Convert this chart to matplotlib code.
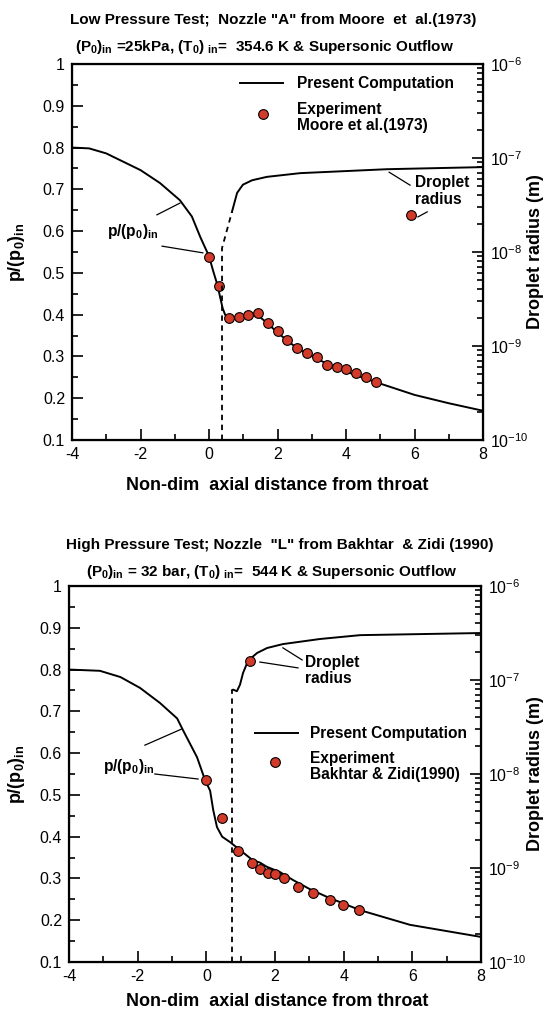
import matplotlib
matplotlib.use("Agg")
import matplotlib.pyplot as plt
from matplotlib.ticker import MultipleLocator, LogLocator, NullFormatter

plt.rcParams['font.family'] = ['Liberation Sans', 'DejaVu Sans']
plt.rcParams['mathtext.fontset'] = 'custom'
plt.rcParams['mathtext.rm'] = 'Liberation Sans'
plt.rcParams['mathtext.it'] = 'Liberation Sans:italic'
plt.rcParams['mathtext.bf'] = 'Liberation Sans:bold'
plt.rcParams['axes.unicode_minus'] = False

# ---------------- Data: low pressure test (Moore et al. 1973) ----------------
lp_calc_x = [-4.0, -3.5, -3.0, -2.6, -2.0, -1.43, -0.85, -0.5, -0.25, 0.0, 0.12, 0.25,
             0.33, 0.40, 0.47, 0.55, 0.8, 1.1, 1.4, 1.7, 2.0, 2.3, 2.6, 3.0, 3.5,
             4.0, 4.5, 5.0, 6.0, 7.0, 8.0]
lp_calc_p = [0.800, 0.798, 0.786, 0.770, 0.746, 0.715, 0.674, 0.635, 0.585, 0.540, 0.505,
             0.470, 0.440, 0.415, 0.400, 0.393, 0.394, 0.398, 0.400, 0.380, 0.357, 0.337,
             0.318, 0.301, 0.280, 0.264, 0.249, 0.235, 0.208, 0.188, 0.170]
lp_exp_x = [0.0, 0.29, 0.58, 0.87, 1.15, 1.43, 1.72, 2.0, 2.29, 2.58, 2.87, 3.15,
            3.44, 3.73, 4.01, 4.30, 4.58, 4.87]
lp_exp_p = [0.538, 0.469, 0.393, 0.395, 0.400, 0.403, 0.380, 0.360, 0.340, 0.320,
            0.308, 0.299, 0.280, 0.275, 0.270, 0.260, 0.250, 0.240]
lp_rad_dash_x = [0.38, 0.38, 0.67]
lp_rad_dash_r = [1e-10, 1.1e-8, 2.67e-8]
lp_rad_x = [0.67, 0.82, 0.99, 1.26, 1.69, 2.66, 5.2, 8.0]
lp_rad_r = [2.67e-8, 4.25e-8, 5.2e-8, 5.8e-8, 6.3e-8, 6.9e-8, 7.6e-8, 8.0e-8]
lp_rad_exp_x = [5.9]
lp_rad_exp_r = [2.5e-8]

# ---------------- Data: high pressure test (Bakhtar & Zidi 1990) ----------------
hp_calc_x = [-4.0, -3.1, -2.5, -1.93, -1.35, -0.85, -0.68, -0.27, -0.04, 0.11, 0.2,
             0.31, 0.46, 0.69, 0.98, 1.36, 1.56, 1.76, 2.15, 2.53, 3.0, 3.51, 4.48,
             5.93, 8.0]
hp_calc_p = [0.800, 0.797, 0.782, 0.756, 0.720, 0.683, 0.655, 0.590, 0.536, 0.510, 0.464,
             0.423, 0.400, 0.387, 0.368, 0.343, 0.338, 0.328, 0.315, 0.296, 0.275,
             0.256, 0.224, 0.189, 0.160]
hp_exp_x = [0.0, 0.46, 0.92, 1.33, 1.57, 1.80, 2.0, 2.26, 2.66, 3.10, 3.60, 3.98, 4.45]
hp_exp_p = [0.536, 0.444, 0.366, 0.337, 0.323, 0.313, 0.310, 0.300, 0.280, 0.265,
            0.248, 0.236, 0.224]
hp_rad_dash_x = [0.75, 0.75]
hp_rad_dash_r = [1e-10, 7.8e-8]
hp_rad_x = [0.75, 0.78, 0.89, 0.98, 1.07, 1.19, 1.27, 1.48, 1.77, 2.23, 3.31, 4.48, 8.0]
hp_rad_r = [7.8e-8, 7.9e-8, 7.6e-8, 8.9e-8, 1.19e-7, 1.52e-7, 1.67e-7, 1.94e-7,
            2.19e-7, 2.41e-7, 2.73e-7, 3.0e-7, 3.16e-7]
hp_rad_exp_x = [1.27]
hp_rad_exp_r = [1.6e-7]

RED = '#d23b2a'
W = 545.0
H = 1014.0
LEG_FS = 11.2

fig = plt.figure(figsize=(5.45, 10.14), dpi=100)


def setup(rect, xlab_top_px):
    ax = fig.add_axes(rect)
    ax.set_xlim(-4, 8)
    ax.set_ylim(0.1, 1.0)
    ax.xaxis.set_major_locator(MultipleLocator(2))
    ax.xaxis.set_minor_locator(MultipleLocator(1))
    ax.yaxis.set_minor_locator(MultipleLocator(0.05))
    ax.set_yticks([0.1, 0.2, 0.3, 0.4, 0.5, 0.6, 0.7, 0.8, 0.9, 1.0])
    ax.set_yticklabels(['0.1', '0.2', '0.3', '0.4', '0.5', '0.6', '0.7', '0.8', '0.9', '1'])
    ax.tick_params(which='both', direction='in', top=False, right=False, labelsize=11.5,
                   width=1.2)
    ax.tick_params(axis='x', pad=5)
    ax.tick_params(axis='y', pad=5)
    ax.tick_params(which='major', length=8)
    ax.tick_params(which='minor', length=4.5)
    ax.xaxis.offsetText.set_visible(False)
    ax.yaxis.offsetText.set_visible(False)
    for s in ax.spines.values():
        s.set_linewidth(1.6)
    ax2 = ax.twinx()
    ax2.xaxis.set_visible(False)
    ax2.yaxis.offsetText.set_visible(False)
    ax2.set_yscale('log')
    ax2.set_ylim(1e-10, 1e-6)
    ax2.yaxis.set_major_locator(LogLocator(base=10, numticks=10))
    ax2.yaxis.set_minor_locator(LogLocator(base=10, subs=range(2, 10), numticks=20))
    ax2.yaxis.set_minor_formatter(NullFormatter())
    ax2.tick_params(which='both', direction='in', labelsize=11.5, width=1.2, pad=5)
    ax2.tick_params(which='major', length=8)
    ax2.tick_params(which='minor', length=4.5)
    x0 = rect[0] * W
    w = rect[2] * W
    y_top = (1 - rect[1] - rect[3]) * H
    h = rect[3] * H
    ax.set_xlabel('Non-dim  axial distance from throat', fontsize=13, fontweight='bold')
    ax.xaxis.set_label_coords((277 - x0) / w, -(xlab_top_px - (y_top + h)) / h)
    ax.set_ylabel(r'$\mathbf{p/(p_0)_{in}}$', fontsize=13)
    ax.yaxis.set_label_coords((27 - x0) / w, 0.5)
    ax2.set_ylabel('Droplet radius (m)', fontsize=13, fontweight='bold')
    ax2.yaxis.set_label_coords((527 - x0) / w, 0.5)
    return ax, ax2


# ---------------- Top panel ----------------
ax, ax2 = setup([72 / W, 1 - 440 / H, 411 / W, 376 / H], 477)
ax.plot(lp_calc_x, lp_calc_p, color='black', lw=1.4, zorder=3)
ax.plot(lp_exp_x, lp_exp_p, 'o', ms=7, mfc=RED, mec='black', mew=0.8, zorder=4)
ax2.plot(lp_rad_dash_x, lp_rad_dash_r, color='black', lw=1.3, ls=(0, (3, 2.5)))
ax2.plot(lp_rad_x, lp_rad_r, color='black', lw=1.4)
ax2.plot(lp_rad_exp_x, lp_rad_exp_r, 'o', ms=7, mfc=RED, mec='black', mew=0.8)

ax.plot([0.9, 2.16], [0.954, 0.954], color='black', lw=1.4)
ax.text(2.57, 0.954, 'Present Computation', fontsize=LEG_FS, fontweight='bold', va='center')
ax.plot([1.58], [0.88], 'o', ms=7, mfc=RED, mec='black', mew=0.8)
ax.text(2.57, 0.871, 'Experiment\nMoore et al.(1973)', fontsize=LEG_FS, fontweight='bold',
        va='center', linespacing=1.1)
ax.text(6.01, 0.696, 'Droplet\nradius', fontsize=LEG_FS, fontweight='bold', va='center',
        linespacing=1.1)
ax.plot([5.26, 5.87], [0.741, 0.71], color='black', lw=0.9)
ax.plot([6.1, 6.37], [0.634, 0.646], color='black', lw=0.9)
ax.text(-2.98, 0.598, r'$\mathbf{p/(p_0)_{in}}$', fontsize=LEG_FS, va='center')
ax.plot([-1.52, -0.85], [0.639, 0.667], color='black', lw=0.9)
ax.plot([-1.37, -0.18], [0.564, 0.548], color='black', lw=0.9)

fig.text(273 / W, 1 - 20 / H, 'Low Pressure Test;  Nozzle "A" from Moore  et  al.(1973)',
         fontsize=11, fontweight='bold', ha='center', va='center')
fig.text(265 / W, 1 - 47 / H,
         r'$\mathbf{(P_0)_{in}}$ =25kPa, $\mathbf{(T_0)}$ $\mathbf{_{in}}$=  354.6 K & Supersonic Outflow',
         fontsize=11, fontweight='bold', ha='center', va='center')

# ---------------- Bottom panel ----------------
bx, bx2 = setup([69 / W, 1 - 962 / H, 412 / W, 376 / H], 993)
bx.plot(hp_calc_x, hp_calc_p, color='black', lw=1.4, zorder=3)
bx.plot(hp_exp_x, hp_exp_p, 'o', ms=7, mfc=RED, mec='black', mew=0.8, zorder=4)
bx2.plot(hp_rad_dash_x, hp_rad_dash_r, color='black', lw=1.3, ls=(0, (3, 2.5)))
bx2.plot(hp_rad_x, hp_rad_r, color='black', lw=1.4)
bx2.plot(hp_rad_exp_x, hp_rad_exp_r, 'o', ms=7, mfc=RED, mec='black', mew=0.8)

bx.plot([1.42, 2.67], [0.648, 0.648], color='black', lw=1.4)
bx.text(3.02, 0.648, 'Present Computation', fontsize=LEG_FS, fontweight='bold', va='center')
bx.plot([2.0], [0.579], 'o', ms=7, mfc=RED, mec='black', mew=0.8)
bx.text(3.02, 0.568, 'Experiment\nBakhtar & Zidi(1990)', fontsize=LEG_FS, fontweight='bold',
        va='center', linespacing=1.1)
bx.text(2.87, 0.798, 'Droplet\nradius', fontsize=LEG_FS, fontweight='bold', va='center',
        linespacing=1.1)
bx.plot([2.23, 2.79], [0.852, 0.823], color='black', lw=0.9)
bx.plot([1.56, 2.67], [0.818, 0.804], color='black', lw=0.9)
bx.text(-3.01, 0.567, r'$\mathbf{p/(p_0)_{in}}$', fontsize=LEG_FS, va='center')
bx.plot([-1.79, -0.71], [0.619, 0.658], color='black', lw=0.9)
bx.plot([-1.5, -0.24], [0.55, 0.538], color='black', lw=0.9)

fig.text(280 / W, 1 - 545 / H, 'High Pressure Test; Nozzle  "L" from Bakhtar  & Zidi (1990)',
         fontsize=11, fontweight='bold', ha='center', va='center')
fig.text(272 / W, 1 - 572 / H,
         r'$\mathbf{(P_0)_{in}}$ = 32 bar, $\mathbf{(T_0)}$ $\mathbf{_{in}}$=  544 K & Supersonic Outflow',
         fontsize=11, fontweight='bold', ha='center', va='center')

fig.savefig('out.png', dpi=100)
